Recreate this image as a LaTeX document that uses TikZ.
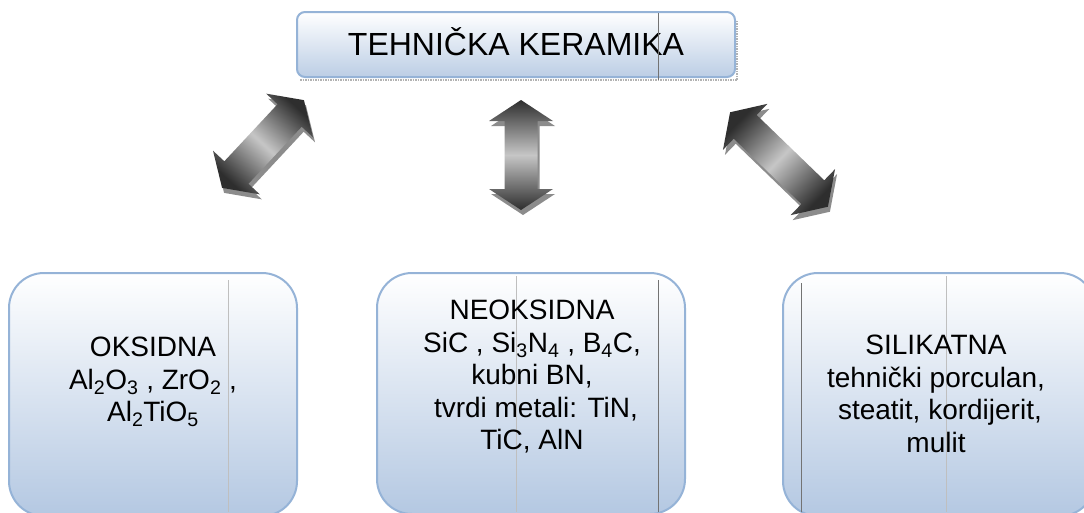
\documentclass[tikz,border=0pt]{standalone}
\usepackage{fontspec}
\setmainfont{Liberation Sans}
\definecolor{bord}{HTML}{95B3D7}
\definecolor{boxbot}{HTML}{B4C8E2}
\definecolor{arrdark}{HTML}{2E2E2E}
\definecolor{arrlight}{HTML}{C6C6C6}
\definecolor{arrshadow}{HTML}{8C8C8C}
\tikzset{
 catbox/.style={draw=bord, line width=2pt, rounded corners=35pt, top color=white, bottom color=boxbot, inner sep=0pt},
 titlebox/.style={draw=bord, line width=2pt, rounded corners=8pt, top color=white, bottom color=boxbot!90, inner sep=0pt,
   minimum width=438pt, minimum height=65pt, text height=22pt, text depth=0pt, font=\fontsize{32}{38}\selectfont},
 cattext/.style={align=center, font=\fontsize{28}{32.5}\selectfont, inner sep=0pt, anchor=north},
 artline/.style={line width=0.6pt, draw=black!55},
 artlight/.style={line width=0.6pt, draw=black!25},
 shadowline/.style={line width=2.5pt, draw=gray!60, dash pattern=on 1.5pt off 1pt},
 arrbody/.style={top color=arrdark, bottom color=arrdark, middle color=arrlight},
}
% #1 name, #2 cx, #3 cy, #4 angle, #5 length
\newcommand\dblarrow[5]{%
 \begin{scope}[shift={(#2+2,#3-5)}, rotate=#4]
  \fill[arrshadow] (0,{#5/2}) -- (32,{#5/2-21}) -- (16.5,{#5/2-21}) -- (16.5,{-#5/2+21}) -- (32,{-#5/2+21})
   -- (0,{-#5/2}) -- (-32,{-#5/2+21}) -- (-16.5,{-#5/2+21}) -- (-16.5,{#5/2-21}) -- (-32,{#5/2-21}) -- cycle;
 \end{scope}
 \begin{scope}[shift={(#2,#3)}, rotate=#4]
  \shade[arrbody, shading angle=#4] (0,{#5/2}) -- (32,{#5/2-21}) -- (16.5,{#5/2-21}) -- (16.5,{-#5/2+21}) -- (32,{-#5/2+21})
   -- (0,{-#5/2}) -- (-32,{-#5/2+21}) -- (-16.5,{-#5/2+21}) -- (-16.5,{#5/2-21}) -- (-32,{#5/2-21}) -- cycle;
 \end{scope}
 \coordinate (#1) at (#2,#3);}
\begin{document}
\begin{tikzpicture}[x=1pt,y=1pt]
\useasboundingbox (0,0) rectangle (1084,-512);
\fill[white] (0,0) rectangle (1084,-512);

% title
\draw[shadowline] (300,-80) -- (737,-80) -- (737,-20);
\node[titlebox] (ttl) at (516,-44.5) {TEHNIČKA KERAMIKA};
\draw[artline] (658,-13) -- (658,-80);

% category boxes
\node[catbox, minimum width=288pt, minimum height=243pt] (boxL) at (153,-394.5) {};
\node[catbox, minimum width=308pt, minimum height=241pt] (boxM) at (531,-393.5) {};
\node[catbox, minimum width=312pt, minimum height=243pt] (boxR) at (939,-394.5) {};

\draw[artlight] (228,-280) -- (228,-512);
\draw[artlight] (516,-276) -- (516,-512);
\draw[artline] (658,-280) -- (658,-512);
\draw[artline] (801,-283) -- (801,-512);
\draw[artlight] (946,-276) -- (946,-512);

\node[cattext] (tOks) at (153,-337) {OKSIDNA\\Al\textsubscript{2}O\textsubscript{3} , ZrO\textsubscript{2} ,\\Al\textsubscript{2}TiO\textsubscript{5}};
\node[cattext] (tNeo) at (532,-300) {NEOKSIDNA\\SiC , Si\textsubscript{3}N\textsubscript{4} , B\textsubscript{4}C,\\kubni BN,\\\hspace*{0.28em}tvrdi metali: TiN,\\TiC, AlN};
\node[cattext] (tSil) at (936,-335) {SILIKATNA\\tehnički porculan,\\\hspace*{0.28em}steatit, kordijerit,\\mulit};

% block arrows
\dblarrow{arrL}{263}{-144}{-43}{120}
\dblarrow{arrM}{521}{-155}{0}{110}
\dblarrow{arrR}{779}{-159.5}{46}{136}
\end{tikzpicture}
\end{document}
